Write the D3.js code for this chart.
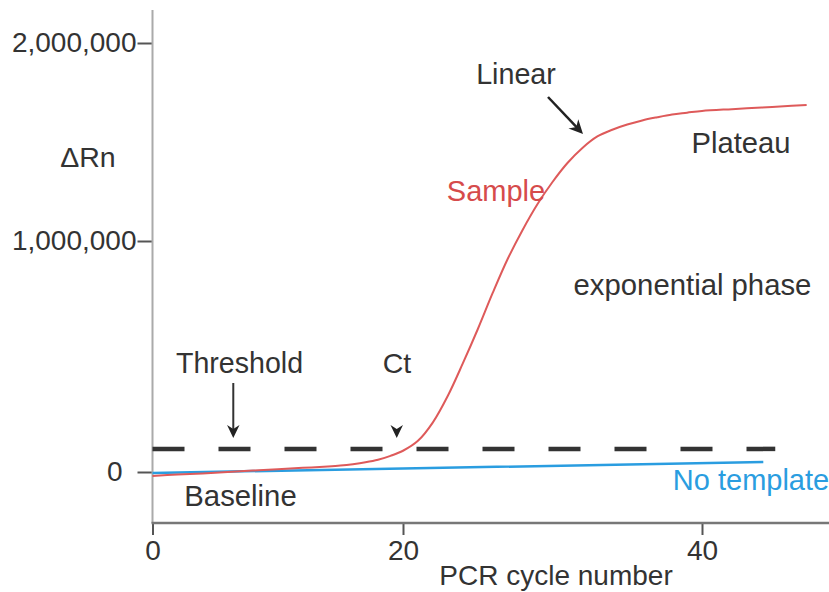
<!DOCTYPE html>
<html>
<head>
<meta charset="utf-8">
<script src="https://cdn.jsdelivr.net/npm/d3@7"></script>
<style>
  html, body { margin: 0; padding: 0; background: #fff; }
  svg { display: block; font-family: "Liberation Sans", Arial, Helvetica, sans-serif; }
</style>
</head>
<body>
<svg id="chart" width="829" height="592"></svg>
<script>
// ---- data ----
const xTicks = [0, 20, 40];
const yTicks = [0, 1000000, 2000000];

const sampleCycles = [0, 2, 4, 6, 8, 10, 12, 14, 15, 16, 17, 18, 19, 20, 21, 22, 23, 24, 25, 26, 27, 28, 29, 30, 31, 32, 33, 34, 35, 36, 37, 38, 39, 40, 42, 44, 46, 47];
const sampleRn = [-17000, -11000, -6000, 0, 6000, 12000, 18000, 24000, 28000, 34000, 42000, 53000, 70000, 92000, 135000, 215000, 330000, 470000, 618000, 775000, 922000, 1056000, 1187000, 1298000, 1394000, 1470000, 1528000, 1562000, 1588000, 1609000, 1625000, 1639000, 1648000, 1657000, 1666000, 1674000, 1683000, 1687000];

const noTemplateCycles = [0, 20, 44.1];
const noTemplateRn = [-4000, 15000, 43000];

const thresholdRn = 100000;
const thresholdCycles = [0, 44.9];

// ---- chart ----
const svg = d3.select("#chart");
const textColor = "#333";
const red = "#de5a5a";
const blue = "#2a9de0";

// hand-drawn axes are not evenly spaced, so use piecewise-linear scales
const x = d3.scaleLinear().domain([0, 20, 40]).range([152.5, 403, 702]);
const y = d3.scaleLinear().domain([0, 1000000, 2000000]).range([472, 241, 43]);

// y axis
const yAxis = svg.append("g")
  .attr("transform", "translate(152.5,0)")
  .call(d3.axisLeft(y).tickValues(yTicks).tickSize(15).tickPadding(1).tickFormat(d3.format(",")));
yAxis.select(".domain").remove();
yAxis.selectAll(".tick line").attr("stroke", "#555").attr("stroke-width", 2);
yAxis.selectAll(".tick text")
  .attr("font-size", 28).attr("fill", textColor)
  .attr("font-family", "Liberation Sans, Arial, sans-serif")
  .attr("x", d => d === 0 ? -30 : -16);
svg.append("line")
  .attr("x1", 152.5).attr("x2", 152.5).attr("y1", 10).attr("y2", 523)
  .attr("stroke", "#aaa").attr("stroke-width", 2);

// x axis
const xAxis = svg.append("g")
  .attr("transform", "translate(0,523)")
  .call(d3.axisBottom(x).tickValues(xTicks).tickSize(12).tickPadding(5));
xAxis.select(".domain").remove();
xAxis.selectAll(".tick line").attr("stroke", "#555").attr("stroke-width", 2);
xAxis.selectAll(".tick text")
  .attr("font-size", 28).attr("fill", textColor)
  .attr("font-family", "Liberation Sans, Arial, sans-serif");
svg.append("line")
  .attr("x1", 151.5).attr("x2", 829).attr("y1", 523).attr("y2", 523)
  .attr("stroke", "#777").attr("stroke-width", 2.5);

// threshold dashed line
svg.append("line")
  .attr("x1", x(thresholdCycles[0])).attr("x2", x(thresholdCycles[1]))
  .attr("y1", y(thresholdRn)).attr("y2", y(thresholdRn))
  .attr("stroke", "#333").attr("stroke-width", 4.5)
  .attr("stroke-dasharray", "32,34");

// no template line
const blueData = noTemplateCycles.map((c, i) => [c, noTemplateRn[i]]);
svg.append("path")
  .datum(blueData)
  .attr("fill", "none").attr("stroke", blue).attr("stroke-width", 2.5)
  .attr("d", d3.line().x(d => x(d[0])).y(d => y(d[1])));

// sample curve
const redData = sampleCycles.map((c, i) => [c, sampleRn[i]]);
svg.append("path")
  .datum(redData)
  .attr("fill", "none").attr("stroke", red).attr("stroke-width", 2)
  .attr("d", d3.line().curve(d3.curveCatmullRom.alpha(0.5)).x(d => x(d[0])).y(d => y(d[1])));

// arrows
function arrowHead(tx, ty, angleDeg, size) {
  const a = angleDeg * Math.PI / 180;
  const pts = [[0, 0], [-size, -size * 0.48], [-size * 0.7, 0], [-size, size * 0.48]];
  const rp = pts.map(([px, py]) => [tx + px * Math.cos(a) - py * Math.sin(a), ty + px * Math.sin(a) + py * Math.cos(a)]);
  svg.append("path")
    .attr("d", "M" + rp.map(p => p.join(",")).join("L") + "Z")
    .attr("fill", "#222");
}
// threshold arrow
const thrX = x(6.45);
svg.append("line").attr("x1", thrX).attr("x2", thrX).attr("y1", 383).attr("y2", 430)
  .attr("stroke", "#333").attr("stroke-width", 2);
arrowHead(thrX, 438, 90, 13);
// Ct arrowhead
arrowHead(x(19.5), 438, 90, 13);
// Linear arrow
const lx1 = 548, ly1 = 97, lx2 = 583, ly2 = 134;
const ang = Math.atan2(ly2 - ly1, lx2 - lx1) * 180 / Math.PI;
svg.append("line").attr("x1", lx1).attr("y1", ly1)
  .attr("x2", lx2 - 9 * Math.cos(ang * Math.PI / 180)).attr("y2", ly2 - 9 * Math.sin(ang * Math.PI / 180))
  .attr("stroke", "#222").attr("stroke-width", 2.5);
arrowHead(lx2, ly2, ang, 14);

// labels
const labels = [
  { t: "ΔRn", x: 88, y: 167, c: textColor, s: 28.5 },
  { t: "Linear", x: 516, y: 84, c: textColor, s: 28.7 },
  { t: "Plateau", x: 741, y: 153, c: textColor, s: 29.2 },
  { t: "Sample", x: 496, y: 201, c: "#d64b4b", s: 29 },
  { t: "exponential phase", x: 692.5, y: 295, c: textColor, s: 29.3 },
  { t: "Threshold", x: 239.5, y: 373, c: textColor, s: 28.6 },
  { t: "Ct", x: 397, y: 373, c: textColor, s: 28.5 },
  { t: "Baseline", x: 240.5, y: 506, c: textColor, s: 29.3 },
  { t: "No template", x: 751, y: 490, c: blue, s: 29 },
  { t: "PCR cycle number", x: 556, y: 585, c: textColor, s: 28 }
];
svg.selectAll("text.lbl").data(labels).enter().append("text")
  .attr("class", "lbl")
  .attr("x", d => d.x).attr("y", d => d.y)
  .attr("text-anchor", "middle")
  .attr("font-size", d => d.s)
  .attr("fill", d => d.c)
  .text(d => d.t);
</script>
</body>
</html>
